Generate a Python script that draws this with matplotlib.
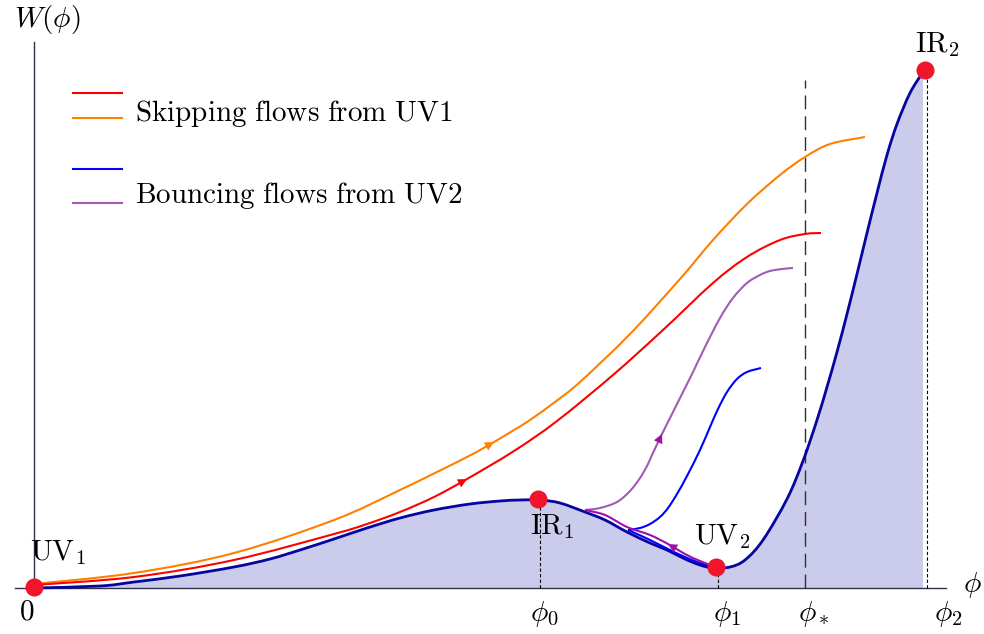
import matplotlib
matplotlib.use("Agg")
import matplotlib.pyplot as plt
from matplotlib.path import Path
from matplotlib.patches import PathPatch
import numpy as np

plt.rcParams['mathtext.fontset'] = 'cm'
plt.rcParams['font.family'] = ['DejaVu Serif']

# ---- data (phi, W), arbitrary units ----
W_phi = [0, 66, 100, 146, 200, 236, 266, 300, 333, 366, 400, 436, 466, 486, 506, 526,
         551, 571, 593, 616, 633, 651, 666, 679, 696, 711, 729, 753, 769, 783, 793,
         803, 813, 823, 833, 843, 853, 863, 876, 889]
W_val = [0, 2, 6, 12, 21, 29, 38, 49, 60, 70, 78, 84, 87, 88, 88, 85,
         76, 68, 56, 45, 38, 29, 23, 20, 21, 28, 48, 89, 127, 168, 201,
         236, 274, 314, 355, 395, 433, 464, 495, 516]

orange_phi = [0, 100, 200, 300, 366, 433, 460, 480, 496, 521, 546, 596, 646, 679, 713, 746, 771, 796, 831]
orange_val = [4, 15, 35, 68, 98, 131, 146, 158, 168, 186, 206, 254, 309, 348, 384, 413, 431, 444, 451]

red_phi = [0, 100, 200, 300, 333, 366, 400, 433, 480, 523, 579, 629, 679, 713, 746, 771, 787]
red_val = [3, 11, 28, 54, 64, 76, 91, 109, 137, 167, 213, 258, 305, 331, 348, 354, 355]

purple_low_phi = [679, 666, 651, 634, 616, 593, 571, 551]
purple_low_val = [22, 27, 34, 44, 53, 61, 73, 78]

purple_up_phi = [551, 566, 583, 596, 606, 613, 618, 628, 636, 646, 659, 671, 686, 699, 713, 726, 736, 748, 759]
purple_up_val = [78, 80, 86, 97, 110, 122, 133, 154, 170, 190, 216, 241, 270, 290, 305, 313, 317, 319, 320]

blue_low_phi = [679, 666, 651, 636, 616, 603, 594]
blue_low_val = [21, 25, 31, 38, 48, 54, 58]

blue_up_phi = [594, 606, 616, 626, 634, 643, 653, 666, 676, 684, 693, 703, 713, 727]
blue_up_val = [58, 60, 64, 71, 80, 94, 112, 138, 161, 179, 196, 209, 216, 220]

# fixed points
pts_phi = [0, 504, 682, 891]
pts_W = [1, 89, 21, 518]
pts_labels = [r'$\mathrm{UV}_1$', r'$\mathrm{IR}_1$', r'$\mathrm{UV}_2$', r'$\mathrm{IR}_2$']

phi_marks = [506, 684, 771, 893]
phi_tops = [85, 21, 508, 518]
phi_labels = [r'$\phi_0$', r'$\phi_1$', r'$\phi_*$', r'$\phi_2$']

legend_labels = [r'$\mathrm{Skipping\ flows\ from\ UV1}$', r'$\mathrm{Bouncing\ flows\ from\ UV2}$']

# ---- styles ----
C_W = '#0505a0'
C_FILL = '#cbcbec'
C_OR = '#ff8000'
C_RED = '#ff0000'
C_BLUE = '#0000ff'
C_PUR = '#a45ab4'
C_MAG = '#a010a8'
C_DOT = '#f0142c'
AX_C = '#303048'
FS = 21


def smooth_path(xs, ys):
    """Bezier path (Catmull-Rom tangents) through the given points."""
    P = np.column_stack([xs, ys]).astype(float)
    n = len(P)
    verts = [P[0]]
    codes = [Path.MOVETO]
    for i in range(n - 1):
        p0 = P[i - 1] if i > 0 else P[i]
        p1, p2 = P[i], P[i + 1]
        p3 = P[i + 2] if i + 2 < n else P[i + 1]
        verts += [p1 + (p2 - p0) / 6.0, p2 - (p3 - p1) / 6.0, p2]
        codes += [Path.CURVE4] * 3
    return verts, codes


def smooth_line(xs, ys, color, lw, z=5):
    v, c = smooth_path(xs, ys)
    ax.add_patch(PathPatch(Path(v, c), facecolor='none', edgecolor=color, lw=lw,
                           zorder=z, capstyle='butt'))


fig = plt.figure(figsize=(9.84, 6.34), dpi=100)
ax = fig.add_axes([0, 0, 1, 1])
ax.set_xlim(-34, 950)
ax.set_ylim(-46, 588)
ax.axis('off')

# axes lines
ax.plot([-19, 912], [0, 0], color=AX_C, lw=1.0, zorder=1)
ax.plot([0, 0], [0, 546], color=AX_C, lw=1.0, zorder=1)

# fill under the potential
v, c = smooth_path(W_phi, W_val)
v = v + [(W_phi[-1], 0), (W_phi[0], 0), (W_phi[0], 0)]
c = c + [Path.LINETO, Path.LINETO, Path.CLOSEPOLY]
ax.add_patch(PathPatch(Path(v, c), facecolor=C_FILL, edgecolor='none', zorder=0))
smooth_line(W_phi, W_val, C_W, 2.0, z=4)

# vertical guide lines
lab_dx = [4, 9, 9, 21]
for xm, top, lab, dx in zip(phi_marks, phi_tops, phi_labels, lab_dx):
    if lab == r'$\phi_*$':
        ax.plot([xm, xm], [0, top], color='#303030', lw=1.0, ls=(0, (10, 5)), zorder=2)
    else:
        ax.plot([xm, xm], [0, top], color='black', lw=0.8, ls=(0, (3, 2)), zorder=2)
    ax.text(xm + dx, -26, lab, fontsize=FS, ha='center', va='center')

# flows
smooth_line(orange_phi, orange_val, C_OR, 1.5)
smooth_line(red_phi, red_val, C_RED, 1.5)
smooth_line(blue_low_phi, blue_low_val, C_BLUE, 1.5)
smooth_line(blue_up_phi, blue_up_val, C_BLUE, 1.5)
smooth_line(purple_up_phi, purple_up_val, C_PUR, 1.5)
smooth_line(purple_low_phi, purple_low_val, C_MAG, 1.5)


def arrow_on(xs, ys, i, color):
    ax.annotate('', xy=(xs[i], ys[i]), xytext=(xs[i - 1], ys[i - 1]),
                arrowprops=dict(arrowstyle='-|>', color=color, lw=0.1,
                                mutation_scale=16, shrinkA=0, shrinkB=0), zorder=6)


arrow_on(orange_phi, orange_val, 6, C_OR)
arrow_on(red_phi, red_val, 7, C_RED)
arrow_on(purple_up_phi, purple_up_val, 7, C_MAG)
arrow_on(purple_low_phi, purple_low_val, 3, C_MAG)

# dots
ax.plot(pts_phi, pts_W, 'o', color=C_DOT, ms=13, mec='none', zorder=7)
lab_pos = [(24, 35), (518, 61), (688, 51), (903, 543)]
for (lx, ly), lab in zip(lab_pos, pts_labels):
    ax.text(lx, ly, lab, fontsize=FS, ha='center', va='center', zorder=8)

# axis labels
ax.text(13, 568, r'$W(\phi)$', fontsize=FS, ha='center', va='center')
ax.text(938, 3, r'$\phi$', fontsize=FS, ha='center', va='center')
ax.text(-7, -24, r'$0$', fontsize=FS, ha='center', va='center')

# legend (manual)
ax.plot([39, 88], [495, 495], color=C_RED, lw=1.5)
ax.plot([39, 88], [470, 470], color=C_OR, lw=1.5)
ax.plot([39, 88], [419, 419], color=C_BLUE, lw=1.5)
ax.plot([39, 88], [385, 385], color=C_PUR, lw=1.5)
ax.text(101, 467, legend_labels[0], fontsize=FS, ha='left', va='baseline')
ax.text(101, 385, legend_labels[1], fontsize=FS, ha='left', va='baseline')

fig.savefig('out.png', dpi=100)
